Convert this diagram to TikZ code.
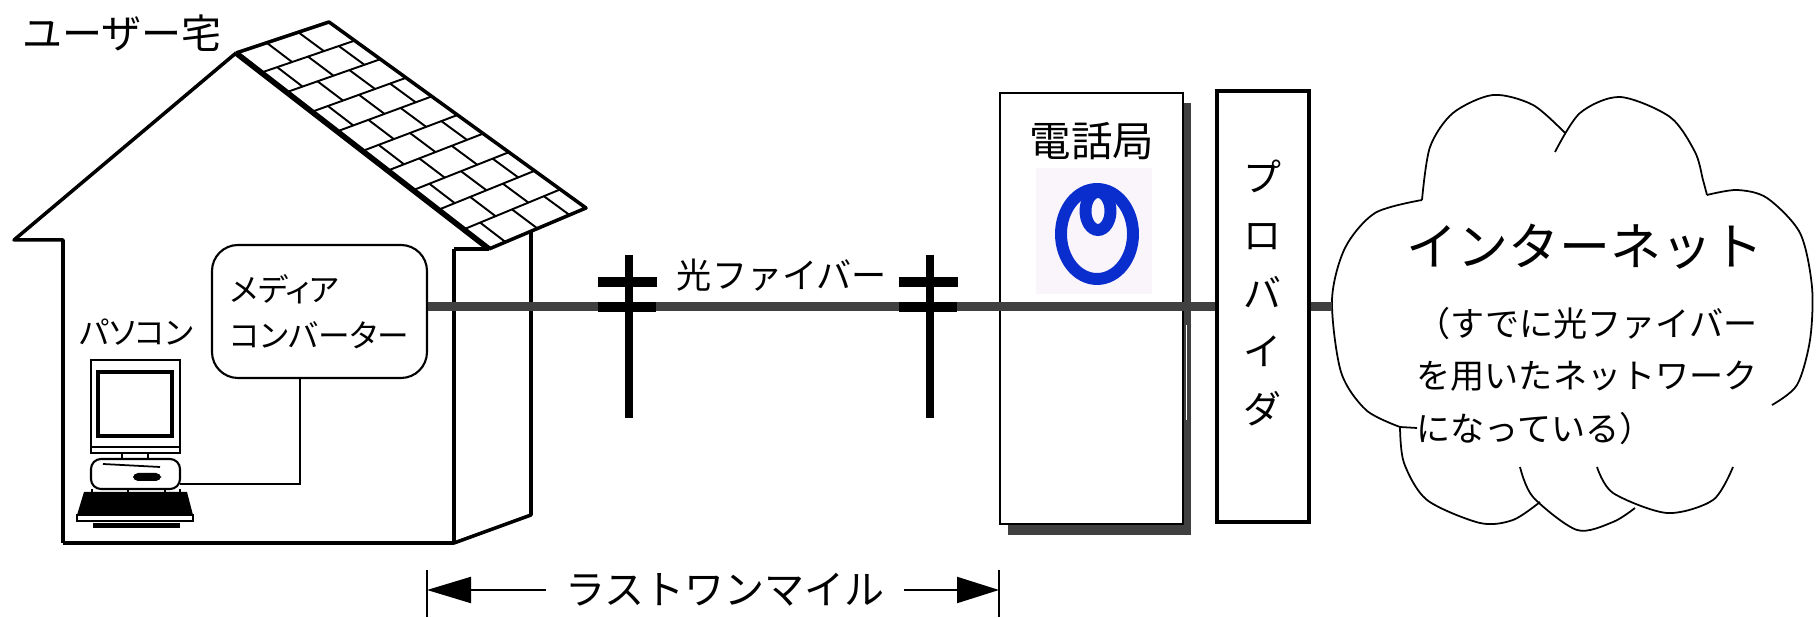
\documentclass[tikz,border=0pt]{standalone}
\usepackage{fontspec}
\newfontfamily\jp{Noto Sans CJK JP}
\newfontfamily\jpp[RawFeature=+palt]{Noto Sans CJK JP}
\usetikzlibrary{calc,arrows.meta}
\definecolor{linegray}{RGB}{64,64,64}
\definecolor{nttblue}{RGB}{10,45,205}
\definecolor{logobg}{RGB}{250,245,250}

\begin{document}
\begin{tikzpicture}[x=0.1mm, y=-0.1mm,
    house/.style={line width=1pt, line join=round},
    tile/.style={line width=0.55pt},
    fiber/.style={draw=linegray, line width=2.8pt},
    cloudline/.style={line width=0.5pt},
    jptext/.style={inner sep=0pt, font=\jp\fontsize{#1}{#1}\selectfont},
    jpnarrow/.style={inner sep=0pt, font=\jpp\fontsize{#1}{#1}\selectfont}]
    \useasboundingbox (0,0) rectangle (1816,618);

    % house
    \node[jptext=11.4] (home) at (122,33) {ユーザー宅};
    \draw[house] (63,543) -- (63,240) -- (14,240) -- (236,53);
    \draw[house] (454,249) -- (489,249);
    \draw[house] (454,249) -- (454,543) -- (63,543);
    \draw[house] (454,543) -- (531,515) -- (531,231);

    % roof tiles
    \coordinate (A) at (236,53);
    \coordinate (T) at (329,22);
    \coordinate (R) at (586,208);
    \coordinate (B) at (489,249);
    \foreach \k in {1,...,9}
        \draw[tile] ($(A)!\k/10!(B)$) -- ($(T)!\k/10!(R)$);
    \foreach \k/\ulist in {0/{0.33,0.67},1/{0.17,0.5,0.83},2/{0.33,0.67},
            3/{0.17,0.5,0.83},4/{0.33,0.67},5/{0.17,0.5,0.83},6/{0.33,0.67},
            7/{0.17,0.5,0.83},8/{0.33,0.67},9/{0.17,0.5,0.83}} {
        \coordinate (p0) at ($(A)!\k/10!(B)$);
        \coordinate (q0) at ($(T)!\k/10!(R)$);
        \coordinate (p1) at ($(A)!\k/10+0.1!(B)$);
        \coordinate (q1) at ($(T)!\k/10+0.1!(R)$);
        \foreach \u in \ulist
            \draw[tile] ($(p0)!\u!(q0)$) -- ($(p1)!\u!(q1)$);
    }
    \draw[house] (A) -- (T) -- (R) -- (B);
    \draw[line width=1.6pt] (A) -- (B);

    % media converter
    \node[draw, line width=0.6pt, fill=white, rounded corners=2.6mm,
          minimum width=21.5mm, minimum height=13.3mm, align=left,
          inner sep=0pt, font=\jpp\fontsize{9}{13.1}\selectfont]
          (mc) at (319.5,311.5) {メディア\\コンバーター};

    % pc
    \node[jpnarrow=9] (pclabel) at (136.5,332) {パソコン};
    \draw[line width=0.5pt] (91,360) rectangle (180,447);
    \draw[line width=1.3pt] (98,372) rectangle (172,436);
    \draw[line width=0.5pt] (91,447) rectangle (180,453);
    \draw[line width=0.5pt] (122,453) rectangle (148,459);
    \draw[line width=0.6pt, rounded corners=1mm] (91,459) rectangle (180,489);
    \draw[line width=0.5pt] (103,464) -- (160,467);
    \fill[rounded corners=0.5mm] (133,473) rectangle (161,481);
    \foreach \lx in {92,128,165,180}
        \draw[line width=0.6pt] (\lx,489) -- (\lx,498);
    \fill (84,492) -- (187,492) -- (193,515) -- (77,515) -- cycle;
    \draw[line width=0.5pt] (77,515) rectangle (193,521);
    \fill (93,523) rectangle (180,528);
    \coordinate (pc) at (180,484);
    \draw[line width=0.8pt] ($(mc.south)+(-19.5,0)$) |- (pc);

    % telephone office
    \fill[linegray] (1008,103) rectangle (1191,535);
    \node[draw, line width=0.6pt, fill=white, minimum width=18.3mm,
          minimum height=43.1mm] (office) at (1091.5,308.5) {};
    \draw[white, line width=0.4pt] (1186.5,325) -- (1186.5,420);
    \node[jptext=11.8] (officelabel) at (1092,141) {電話局};
    \fill[logobg] (1036,168) rectangle (1152,294);
    \draw[nttblue, line width=3.4pt] (1097,234) ellipse [x radius=36, y radius=45];
    \draw[nttblue, line width=3.4pt] (1098,211) ellipse [x radius=12.5, y radius=19];

    % provider
    \node[draw, line width=1.1pt, fill=white, minimum width=9.2mm,
          minimum height=43.1mm] (isp) at (1263,306.5) {};
    \node[align=center, inner sep=0pt, font=\jp\fontsize{10.8}{16.5}\selectfont]
          (ispname) at (1262,293) {プ\\ロ\\バ\\イ\\ダ};

    % internet cloud
    \draw[cloudline] (1417,428) -- (1400,427);
    \draw[cloudline] plot[smooth] coordinates {(1400,427) (1366,410) (1341,372)
        (1332,300) (1345,248) (1375,213) (1422,200)};
    \draw[cloudline] plot[smooth] coordinates {(1400,427) (1404,463) (1427,500)
        (1480,523) (1513,520) (1540,502)};
    \draw[cloudline] plot[smooth] coordinates {(1520,467) (1533,497) (1577,530)
        (1613,522) (1635,508)};
    \draw[cloudline] plot[smooth] coordinates {(1597,467) (1613,493) (1667,513)
        (1713,500) (1733,467)};
    \draw[cloudline] plot[smooth] coordinates {(1772,405) (1797,385) (1810,340)
        (1812,287) (1800,233) (1767,198) (1737,190) (1707,195)};
    \draw[cloudline] plot[smooth] coordinates {(1555,152) (1580,113) (1620,97)
        (1670,117) (1695,152) (1703,180) (1707,195)};
    \draw[cloudline] plot[smooth] coordinates {(1422,200) (1430,147) (1453,113)
        (1493,95) (1533,105) (1565,133)};
    \coordinate (net) at (1332,306.5);
    \node[jptext=14.5] (netlabel) at (1585,247) {インターネット};
    \node[anchor=west, align=left, inner sep=0pt,
          font=\jp\fontsize{9.7}{14.9}\selectfont] (netnote) at (1416,376)
          {（すでに光ファイバー\\を用いたネットワーク\\になっている）};

    % fiber
    \draw[fiber] (mc.east |- isp.west) -- (isp.west);
    \draw[fiber] (isp.east) -- (net);
    \node[jptext=10] (fiberlabel) at (782,275) {光ファイバー};

    % poles
    \foreach \px in {629,930} {
        \draw[line width=2.3pt] (\px,255) -- (\px,418);
        \draw[line width=2.8pt] (\px-31,282) -- (\px+28,282);
        \draw[line width=2.8pt] (\px-31,307) -- (\px+27,307);
    }

    % last one mile
    \coordinate (lmL) at (427,590);
    \coordinate (lmR) at (999,590);
    \draw[line width=0.6pt] ($(lmL)+(0,-20)$) -- ($(lmL)+(0,27)$);
    \draw[line width=0.6pt] ($(lmR)+(0,-20)$) -- ($(lmR)+(0,27)$);
    \draw[line width=0.6pt, {Triangle[length=4.4mm,width=2.6mm]}-{Triangle[length=4.2mm,width=2.6mm]}]
        (lmL) -- node[pos=0.521, fill=white, inner xsep=1.9mm, inner ysep=0pt,
        font=\jp\fontsize{11.4}{11.4}\selectfont] (lastmile) {ラストワンマイル} (lmR);
\end{tikzpicture}
\end{document}
